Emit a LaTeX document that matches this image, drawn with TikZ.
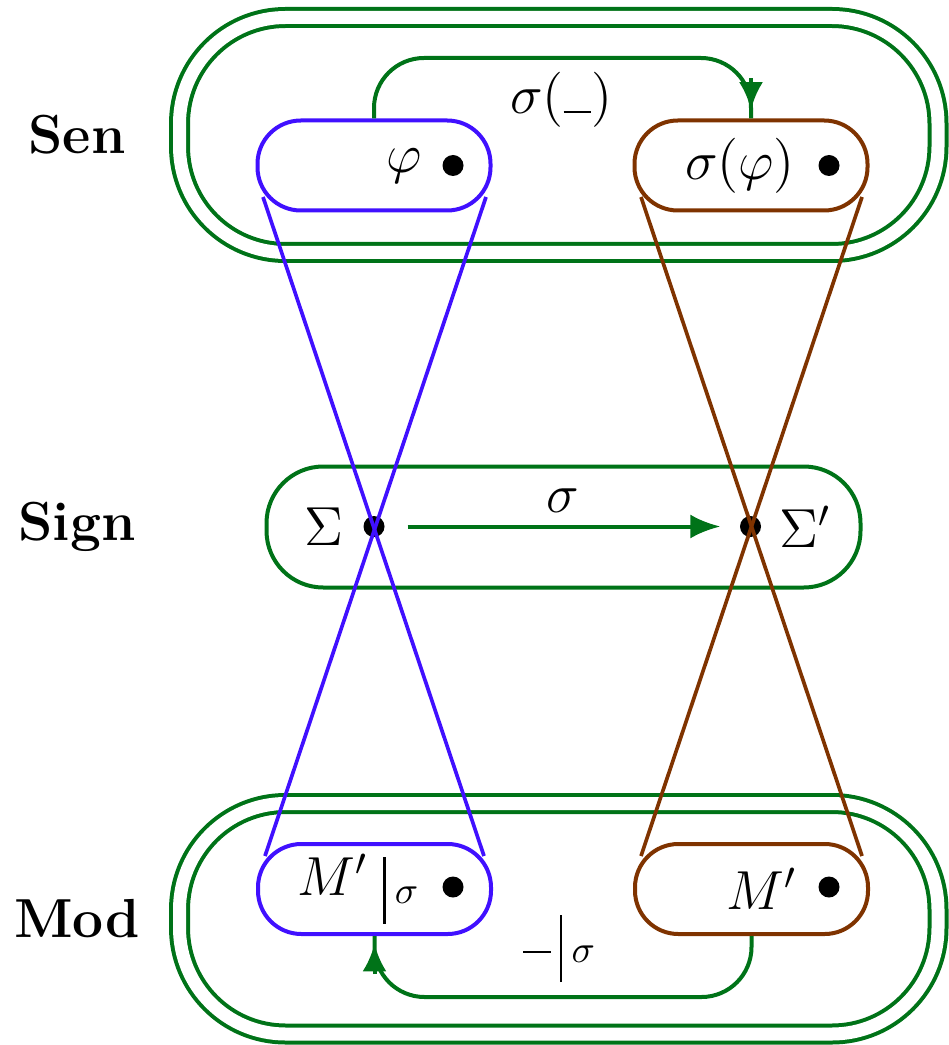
\RequirePackage{fix-cm}
\documentclass[tikz,border=0pt]{standalone}
\usetikzlibrary{arrows.meta,calc}
\definecolor{sgreen}{RGB}{0,115,24}
\definecolor{sblue}{RGB}{64,16,255}
\definecolor{sbrown}{RGB}{127,51,0}
\newcommand\rbar{\vrule width 0.045em height 0.71em depth 0.51em}
\newcommand\usc{\rule[0.02em]{0.5em}{0.035em}}
\begin{document}
\begin{tikzpicture}[x=0.3pt,y=-0.3pt,font=\fontsize{16.5}{20}\selectfont,
  sbox/.style={draw, line width=1.2pt, rounded corners=13pt, minimum width=69.9pt, minimum height=27pt, inner sep=0pt},
  dbl/.style={draw=sgreen, double=white, line width=1.2pt, double distance=3.9pt, rounded corners=31.8pt, minimum width=227.55pt, inner sep=0pt},
  dotn/.style={circle, fill=black, minimum size=6.3pt, inner sep=0pt},
  lbl/.style={inner sep=0pt},
  garr/.style={sgreen, line width=1.2pt},
  tip/.style={-{Latex[length=8.2pt,width=7.2pt]}},
  xline/.style={line width=1.1pt}]
\useasboundingbox (0,0) rectangle (948,1045);
% containers
\node[dbl, minimum height=70.5pt] (sen) at (558.75,135) {};
\node[dbl, minimum height=69.15pt] (mod) at (558.75,918.75) {};
\node[draw=sgreen, line width=1.2pt, rounded corners=17pt, minimum width=178.2pt, minimum height=36.3pt, inner sep=0pt] (sign) at (563.5,527) {};
% small boxes
\node[sbox, draw=sblue] (phib) at (374,165.5) {};
\node[sbox, draw=sbrown] (sphib) at (751,165.5) {};
\node[sbox, draw=sblue] (mrb) at (374.5,889) {};
\node[sbox, draw=sbrown] (mb) at (751.5,889) {};
% row labels
\node[lbl] (senl) at (77,134.5) {\textbf{Sen}};
\node[lbl] (signl) at (77,527) {\textbf{Sign}};
\node[lbl] (modl) at (77,918.5) {\textbf{Mod}};
% texts and dots
\node[lbl] (phit) at (404,166) {$\varphi$};
\node[dotn] (phid) at (453,165.5) {};
\node[lbl] (sphit) at (740,165.5) {$\sigma(\varphi)$};
\node[dotn] (sphid) at (829,165.5) {};
\node[lbl] (sigt) at (324,527) {$\Sigma$};
\node[dotn] (sigd) at (374,526.5) {};
\node[lbl] (sigpt) at (805,527) {$\Sigma'$};
\node[dotn] (sigpd) at (750.5,526.5) {};
\node[lbl] (mrt) at (359,889) {$M'\mkern5mu\rbar\mkern3mu{}_{\sigma}$};
\node[dotn] (mrd) at (453,887) {};
\node[lbl] (mt) at (761.5,889) {$M'$};
\node[dotn] (md) at (829,887) {};
% top arrow sigma(_)
\coordinate (ta) at (751,58);
\draw[garr, rounded corners=15pt] (phib.north) |- (ta) -- (sphib.north);
\draw[garr, tip] ($(sphib.north)+(0,-40)$) -- ($(sphib.north)+(0,-9)$);
\node[lbl] (sl) at (561,100) {$\sigma(\usc)$};
% bottom arrow restriction
\coordinate (ba) at (751.5,997);
\draw[garr, rounded corners=15pt] (mb.south) |- (mrb.south |- ba) -- (mrb.south);
\draw[garr, tip] ($(mrb.south)+(0,38)$) -- ($(mrb.south)+(0,8)$);
\node[lbl] (rl) at (560,948.5) {$\usc\mkern3mu\rbar\mkern3mu{}_{\sigma}$};
% sigma arrow
\draw[garr, -{Latex[length=9pt,width=7.2pt]}, shorten <=6.75pt, shorten >=5.7pt] (sigd) -- (sigpd);
\node[lbl] (sigl) at (563,501) {$\sigma$};
% crossing lines
\coordinate (b1) at ($(phib.center)+(-111,31.5)$);
\coordinate (b3) at ($(phib.center)+(112,31.5)$);
\coordinate (b2) at ($(mrb.center)+(109.5,-33)$);
\coordinate (b4) at ($(mrb.center)+(-109.5,-33)$);
\draw[sblue, xline] (b1) -- (b2);
\draw[sblue, xline] (b3) -- (b4);
\coordinate (r1) at ($(sphib.center)+(-110,31.5)$);
\coordinate (r3) at ($(sphib.center)+(111,31.5)$);
\coordinate (r2) at ($(mb.center)+(110.5,-33)$);
\coordinate (r4) at ($(mb.center)+(-110.5,-33)$);
\draw[sbrown, xline] (r1) -- (r2);
\draw[sbrown, xline] (r3) -- (r4);
\end{tikzpicture}
\end{document}
